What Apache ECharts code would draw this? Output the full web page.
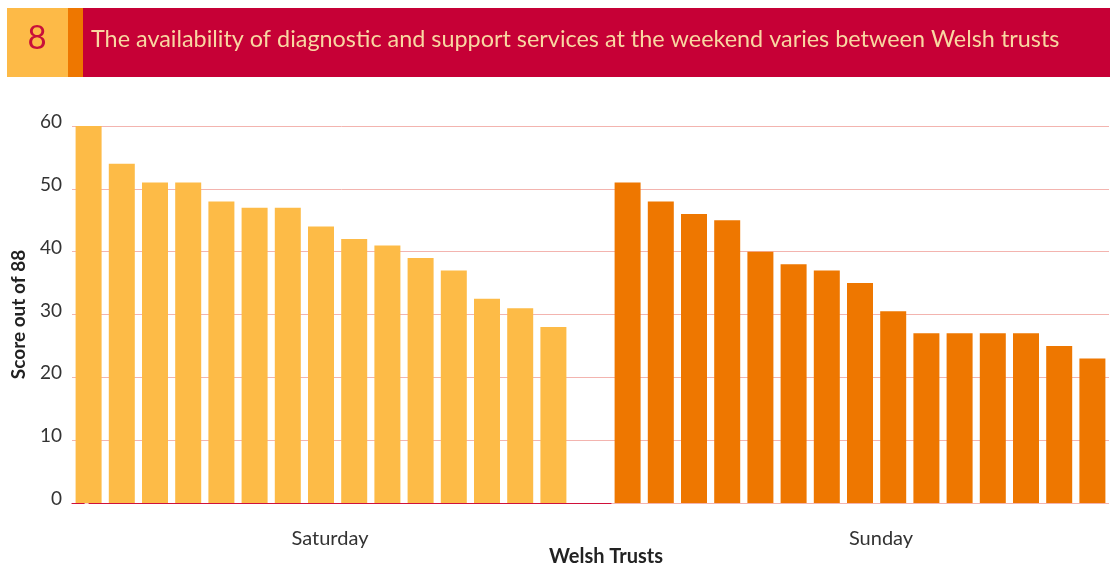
<!DOCTYPE html>
<html><head><meta charset="utf-8">
<script src="https://cdn.jsdelivr.net/npm/echarts@6/dist/echarts.min.js"></script>
<style>html,body{margin:0;padding:0;background:#fff}#c{width:1116px;height:574px}</style>
</head><body><div id="c"></div>
<script>
const figureNumber = '8';
const chartTitle = 'The availability of diagnostic and support services at the weekend varies between Welsh trusts';
const yAxisTitle = 'Score out of 88';
const xAxisTitle = 'Welsh Trusts';
const groupLabels = ['Saturday', 'Sunday'];
const saturdayScores = [60, 54, 51, 51, 48, 47, 47, 44, 42, 41, 39, 37, 32.5, 31, 28];
const sundayScores = [51, 48, 46, 45, 40, 38, 37, 35, 30.5, 27, 27, 27, 27, 25, 23];
const yMin = 0, yMax = 60, yStep = 10;

const FONT = 'Lato, "Open Sans", sans-serif';
const slot = 33.2;
const gridA = { left: 72, top: 126, width: 539, bottom: 71 };
const gridB = { left: 611, top: 126, width: 498, bottom: 71 };
const grid = '#F3B4AF';

const chart = echarts.init(document.getElementById('c'), null, { renderer: 'canvas' });

function yAxisBase(idx, showLabels) {
  return {
    type: 'value', gridIndex: idx, min: yMin, max: yMax, interval: yStep,
    axisLine: { show: false },
    axisTick: { show: showLabels, length: 4, lineStyle: { color: '#F7D3D0' } },
    axisLabel: { show: showLabels, fontFamily: FONT, fontSize: 19, color: '#333', margin: 10, verticalAlign: 'bottom', lineHeight: 8 },
    splitLine: { show: true, lineStyle: { color: grid, width: 1 } },
    name: showLabels ? yAxisTitle : '',
    nameLocation: 'middle', nameGap: 44,
    nameTextStyle: { fontFamily: FONT, fontSize: 19, fontWeight: 'bold', color: '#222' }
  };
}

chart.setOption({
  animation: false,
  backgroundColor: '#fff',
  graphic: [
    { type: 'rect', shape: { x: 7, y: 8, width: 61, height: 69 }, style: { fill: '#FDBA47' } },
    { type: 'rect', shape: { x: 68, y: 8, width: 15, height: 69 }, style: { fill: '#EE7700' } },
    { type: 'rect', shape: { x: 83, y: 8, width: 1027, height: 69 }, style: { fill: '#C60036' } },
    { type: 'text', x: 37, y: 38, style: { text: figureNumber, fill: '#C8103A', font: '33px ' + FONT, textAlign: 'center', textVerticalAlign: 'middle' } },
    { type: 'text', x: 91, y: 39, style: { text: chartTitle, fill: '#F9D7A2', font: '23.4px ' + FONT, textAlign: 'left', textVerticalAlign: 'middle' } },
    { type: 'text', x: 606, y: 557, style: { text: xAxisTitle, fill: '#222', font: 'bold 20px ' + FONT, textAlign: 'center', textVerticalAlign: 'middle' } }
  ],
  grid: [gridA, gridB],
  xAxis: [
    {
      type: 'value', gridIndex: 0, min: -0.5, max: -0.5 + gridA.width / slot,
      axisLine: { show: true, onZero: false, lineStyle: { color: '#D0103A', width: 1.2 } },
      axisTick: { show: false }, axisLabel: { show: false }, splitLine: { show: false },
      name: groupLabels[0], nameLocation: 'middle', nameGap: 26,
      nameTextStyle: { fontFamily: FONT, fontSize: 20, color: '#333', padding: [0, 23, 0, 0] }
    },
    {
      type: 'category', gridIndex: 1, data: sundayScores.map((_, i) => 'Trust ' + (i + 1)),
      axisLine: { show: false }, axisTick: { show: false }, axisLabel: { show: false },
      name: groupLabels[1], nameLocation: 'middle', nameGap: 26,
      nameTextStyle: { fontFamily: FONT, fontSize: 20, color: '#333', padding: [0, 0, 0, 42] }
    }
  ],
  yAxis: [yAxisBase(0, true), yAxisBase(1, false)],
  series: [
    {
      name: groupLabels[0], type: 'bar', xAxisIndex: 0, yAxisIndex: 0, barWidth: 26,
      itemStyle: { color: '#FDBB47' },
      data: saturdayScores.map((v, i) => [i, v])
    },
    {
      name: groupLabels[1], type: 'bar', xAxisIndex: 1, yAxisIndex: 1, barWidth: 26,
      itemStyle: { color: '#EE7700' },
      data: sundayScores
    }
  ]
});
</script></body></html>
